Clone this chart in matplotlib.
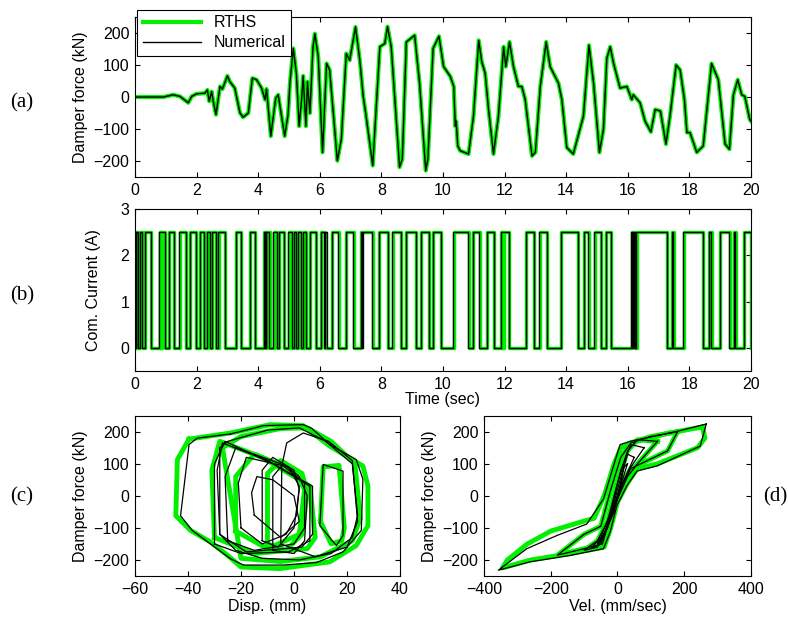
import matplotlib
matplotlib.use('Agg')
import matplotlib.pyplot as plt
from matplotlib.lines import Line2D

plt.rcParams['font.family'] = ['Liberation Sans', 'DejaVu Sans']
plt.rcParams['font.size'] = 11.5

GREEN = '#00f000'

# (a) damper force time history
time_a = [0, 0.92, 1.24, 1.46, 1.73, 1.84, 2.0, 2.27, 2.35, 2.41,
          2.49, 2.54, 2.63, 2.76, 2.84, 3.0, 3.08, 3.24, 3.41, 3.51,
          3.68, 3.81, 3.95, 4.11, 4.22, 4.27, 4.41, 4.57, 4.65, 4.86,
          4.97, 5.03, 5.14, 5.24, 5.33, 5.41, 5.46, 5.55, 5.6, 5.68,
          5.78, 5.84, 5.95, 6.09, 6.22, 6.32, 6.57, 6.7, 6.86, 6.97,
          7.16, 7.3, 7.41, 7.49, 7.72, 7.95, 8.11, 8.2, 8.32, 8.59,
          8.68, 8.81, 9.08, 9.24, 9.44, 9.51, 9.68, 9.87, 10.02, 10.24,
          10.35, 10.4, 10.43, 10.48, 10.56, 10.83, 10.99, 11.16, 11.26, 11.37,
          11.48, 11.64, 11.8, 11.97, 12.04, 12.16, 12.29, 12.45, 12.56, 12.67,
          12.89, 13.0, 13.16, 13.35, 13.48, 13.75, 13.86, 14.02, 14.23, 14.56,
          14.74, 14.89, 15.08, 15.21, 15.32, 15.43, 15.54, 15.75, 15.97, 16.13,
          16.18, 16.4, 16.56, 16.75, 16.89, 17.06, 17.24, 17.37, 17.57, 17.7,
          17.84, 17.92, 18.02, 18.24, 18.45, 18.72, 18.94, 19.16, 19.3, 19.43,
          19.57, 19.7, 19.8, 19.96, 20.0]
force_a = [0, 0, 7, 2, -18, 2, 10, 12, 22, -13,
           17, -13, -55, 33, 25, 66, 48, 28, -50, -63,
           -50, 59, 54, 28, -8, 25, -122, -3, 7, -122,
           -55, 43, 152, 74, -91, -8, 66, -91, 48, -50,
           157, 198, 126, -173, 105, 85, -199, -132, 136, 115,
           219, 115, 2, -50, -214, 157, 167, 220, 157, -219,
           -194, 172, 193, 43, -230, -194, 152, 190, 95, 64,
           33, -91, -75, -153, -168, -178, -60, 177, 110, 74,
           -39, -178, -60, 157, 95, 172, 95, 33, 33, -8,
           -184, -173, 33, 172, 95, 43, -8, -158, -178, -60,
           162, 43, -173, -101, 121, 157, 105, 28, 33, -8,
           7, -18, -75, -109, -39, -44, -147, -60, 100, 85,
           -8, -111, -111, -173, -153, 105, 54, -147, -163, 7,
           54, 7, 2, -70, -75]

# (b) command current: on/off switching times (current 2.5 A when on)
current_on_level = 2.5
num_on = [0.00, 0.03, 0.16, 0.32, 0.79, 1.11, 1.44, 1.79, 2.11, 2.33,
          2.49, 2.71, 3.28, 3.73, 4.19, 4.23, 4.27, 4.49, 4.68, 4.98,
          5.16, 5.28, 5.47, 5.68, 6.04, 6.18, 6.39, 6.85, 7.34, 7.40,
          7.92, 8.36, 8.79, 9.29, 9.68, 10.34, 10.98, 11.42, 11.87, 12.69,
          13.13, 13.82, 14.57, 14.91, 15.29, 16.12, 16.17, 16.22, 16.28, 17.42,
          17.80, 18.63, 19.00, 19.44, 19.76]
num_off = [0.02, 0.10, 0.24, 0.51, 0.97, 1.27, 1.66, 1.97, 2.24, 2.44,
           2.63, 2.92, 3.44, 3.90, 4.21, 4.25, 4.36, 4.60, 4.84, 5.09,
           5.23, 5.39, 5.54, 5.87, 6.15, 6.25, 6.60, 7.09, 7.37, 7.71,
           8.20, 8.64, 9.11, 9.55, 9.92, 10.82, 11.18, 11.66, 12.14, 12.95,
           13.37, 14.38, 14.72, 15.12, 15.46, 16.15, 16.20, 16.25, 17.28, 17.48,
           18.43, 18.71, 19.30, 19.49, 20.00]
rths_on = [0.00, 0.05, 0.08, 0.17, 0.33, 0.80, 0.84, 0.88, 1.12, 1.45,
           1.80, 2.12, 2.34, 2.50, 2.72, 3.29, 3.74, 4.20, 4.28, 4.50,
           4.69, 4.99, 5.17, 5.29, 5.48, 5.69, 6.05, 6.40, 6.86, 7.35,
           7.93, 8.37, 8.80, 9.30, 9.69, 10.35, 10.99, 11.43, 11.88, 11.93,
           11.97, 12.70, 13.14, 13.83, 14.58, 14.92, 15.30, 16.13, 16.29, 17.43,
           17.81, 18.64, 19.01, 19.45, 19.77]
rths_off = [0.03, 0.06, 0.11, 0.25, 0.52, 0.82, 0.86, 0.98, 1.28, 1.67,
            1.98, 2.25, 2.45, 2.64, 2.93, 3.45, 3.91, 4.26, 4.37, 4.61,
            4.85, 5.10, 5.24, 5.40, 5.55, 5.88, 6.16, 6.61, 7.10, 7.72,
            8.21, 8.65, 9.12, 9.56, 9.93, 10.83, 11.19, 11.67, 11.91, 11.95,
            12.15, 12.96, 13.38, 14.39, 14.73, 15.13, 15.47, 16.22, 17.29, 17.49,
            18.44, 18.72, 19.31, 19.50, 20.00]

# (c) force vs displacement loops (mm, kN)
c_rths_loops = [
    ([-39.6, -24, -9, 3.5, 13.5, 26, 27.9, 27.9, 23.5, 13.5, -5.3, -20, -25, -31.5, -39, -44.6, -44, -39.6],
     [177, 196, 222, 219, 155, 93, 31, -93, -155, -206, -227, -222, -186, -144, -108, -62, 113, 177]),
    ([-30, -31, -28, -12, 6, 8, 5, -15, -30],
     [-130, 80, 170, 120, 30, -130, -165, -180, -130]),
    ([10, 11, 17, 19, 18, 14, 10],
     [-80, 90, 95, -100, -140, -150, -80]),
    ([-22, -22, -15, 0, 4, 2, -10, -22],
     [-110, 60, 130, 80, 20, -120, -165, -110]),
    ([-27, -20, -5, 5, 14, 23, 25, 22, 10, -5, -20, -27],
     [150, 185, 210, 212, 170, 100, -70, -140, -190, -205, -195, 150]),
    ([-10, -10, -5, 3, 5, 3, -3, -10],
     [-150, 70, 110, 70, 10, -120, -170, -150]),
]
c_num_loops = [
    ([-24, -36.5, -39.6, -42.8, -38.4, -24, -19, -4, 8.5, 18.5, 25.4, 26, 23.5, 13.5, 6.6, 3.5, -11.5, -20, -24],
     [193, 180, 160, -62, -108, -196, -216, -216, -208, -175, -108, 52, 113, 160, 211, 222, 219, 201, 193]),
    ([-28, -25, -10, 2, 12, 22, 24, 22, 14, 2, -12, -22, -28, -28],
     [150, 170, 205, 212, 170, 100, -60, -130, -180, -200, -195, -170, -120, 150]),
    ([-28, -29, -27, -10, 7, 7, 3, -18, -28],
     [-120, 80, 165, 110, 30, -120, -160, -175, -120]),
    ([-30, -30, -26, -8, 6, 6, -2, -20, -30],
     [-150, 100, 170, 100, 30, -140, -175, -180, -150]),
    ([-25, -26, -22, -5, 4, 4, 0, -15, -25],
     [-140, 60, 150, 100, 40, -100, -150, -170, -140]),
    ([-20, -21, -18, -2, 2, 1, -3, -12, -20],
     [-100, 40, 120, 90, 30, -60, -120, -150, -100]),
    ([-15, -16, -14, -8, 0, 2, -5, -15],
     [-60, 10, 60, 50, 0, -80, -130, -60]),
    ([-12, -12, -8, 0, 2, 0, -6, -12],
     [-140, 80, 120, 80, 20, -100, -160, -140]),
    ([-8, -8, -4, 2, 5, 4, 0, -8],
     [-170, 60, 100, 60, 0, -140, -180, -170]),
    ([10, 11, 18.5, 18.5, 16, 9.75, 10],
     [-60, 98, 77, -124, -155, -93, -60]),
    ([-5, -4.6, -2.75, 3.5, 13, 22, 24, 20, 8, -5],
     [-150, 93, 165, 196, 170, 110, -80, -160, -190, -150]),
]

# (d) force vs velocity loops (mm/sec, kN)
d_rths_loops = [
    ([255, 262, 240, 120, 60, 30, 0, -20, -40, -140, -260, -345, -330, -270, -200, -120, -70, -40, -10, 10, 40, 150, 255],
     [215, 180, 150, 100, 85, 40, -20, -100, -160, -180, -200, -225, -200, -150, -110, -85, -70, 0, 100, 150, 165, 195, 215]),
    ([180, 150, 80, 40, 10, -20, -45, -100, -180, -100, -50, -20, 10, 40, 100, 180],
     [200, 140, 105, 85, 30, -60, -150, -165, -185, -120, -95, 20, 120, 165, 185, 200]),
    ([120, 60, 30, 0, -30, -60, -100, -60, -30, 0, 30, 60, 120],
     [170, 100, 60, -10, -100, -160, -170, -140, -80, 40, 140, 175, 170]),
]
d_num_loops = [
    ([266, 248, 118, 58, 28, -2, -22, -42, -142, -262, -357, -272, -182, -92, -42, -12, 8, 38, 178, 266],
     [224, 155, 93, 77, 31, -31, -113, -165, -186, -206, -232, -165, -124, -88, -10, 93, 160, 170, 201, 224]),
    ([180, 150, 80, 40, 10, -20, -45, -100, -180, -100, -50, -20, 10, 40, 100, 180],
     [200, 140, 105, 85, 30, -60, -150, -165, -185, -120, -95, 20, 120, 165, 185, 200]),
    ([120, 60, 30, 0, -30, -60, -100, -60, -30, 0, 30, 60, 120],
     [170, 100, 60, -10, -100, -160, -170, -140, -80, 40, 140, 175, 170]),
    ([80, 40, 10, -20, -50, -80, -50, -20, 10, 40, 80],
     [150, 90, 20, -70, -150, -165, -130, -50, 80, 160, 150]),
    ([50, 20, -10, -40, -60, -30, 0, 30, 50],
     [120, 50, -40, -120, -150, -100, 20, 130, 120]),
    ([30, 0, -30, -40, -10, 20, 30],
     [100, 0, -90, -120, -50, 90, 100]),
]


def square_wave(ons, offs, level):
    xs, ys = [0.0], [0.0]
    for a, b in zip(ons, offs):
        xs += [a, a, b, b]
        ys += [0, level, level, 0]
    return xs, ys


def style(ax):
    ax.tick_params(direction='in', top=True, right=True, length=3.5, labelsize=11.5, pad=4)
    for s in ax.spines.values():
        s.set_linewidth(0.8)


fig = plt.figure(figsize=(7.88, 6.22), dpi=100)
ax_a = fig.add_axes([0.1713, 0.7154, 0.7817, 0.2572])
ax_b = fig.add_axes([0.1713, 0.4035, 0.7817, 0.2605])
ax_c = fig.add_axes([0.1713, 0.0740, 0.3363, 0.2577])
ax_d = fig.add_axes([0.6142, 0.0740, 0.3388, 0.2577])

# (a)
ax_a.plot(time_a, force_a, color=GREEN, lw=3)
ax_a.plot(time_a, force_a, color='black', lw=1)
ax_a.set_xlim(0, 20)
ax_a.set_ylim(-250, 250)
ax_a.set_xticks(range(0, 21, 2))
ax_a.set_yticks([-200, -100, 0, 100, 200])
ax_a.set_ylabel('Damper force (kN)', labelpad=4)
handles = [Line2D([], [], color=GREEN, lw=3), Line2D([], [], color='black', lw=1)]
leg = ax_a.legend(handles, ['RTHS', 'Numerical'], loc='upper left',
                  bbox_to_anchor=(0.004, 1.045), fancybox=False, framealpha=1,
                  edgecolor='black', fontsize=11.5, borderaxespad=0,
                  handlelength=3.6, borderpad=0.35, labelspacing=0.3)
leg.get_frame().set_linewidth(0.8)
style(ax_a)

# (b)
xg, yg = square_wave(rths_on, rths_off, current_on_level)
xn, yn = square_wave(num_on, num_off, current_on_level)
ax_b.plot(xg, yg, color=GREEN, lw=2.5)
ax_b.plot(xn, yn, color='black', lw=1)
ax_b.set_xlim(0, 20)
ax_b.set_ylim(-0.5, 3)
ax_b.set_xticks(range(0, 21, 2))
ax_b.set_yticks([0, 1, 2, 3])
ax_b.set_ylabel('Com. Current (A)', labelpad=14)
ax_b.set_xlabel('Time (sec)', labelpad=0)
style(ax_b)

# (c)
for xs, fs in c_rths_loops:
    ax_c.plot(xs, fs, color=GREEN, lw=3.5, solid_joinstyle='round')
for xs, fs in c_num_loops:
    ax_c.plot(xs, fs, color='black', lw=0.9)
ax_c.set_xlim(-60, 40)
ax_c.set_ylim(-250, 250)
ax_c.set_xticks([-60, -40, -20, 0, 20, 40])
ax_c.set_yticks([-200, -100, 0, 100, 200])
ax_c.set_xlabel('Disp. (mm)', labelpad=2)
ax_c.set_ylabel('Damper force (kN)', labelpad=4)
style(ax_c)

# (d)
for vs, fs in d_rths_loops:
    ax_d.plot(vs, fs, color=GREEN, lw=3.5, solid_joinstyle='round')
for vs, fs in d_num_loops:
    ax_d.plot(vs, fs, color='black', lw=0.9)
ax_d.set_xlim(-400, 400)
ax_d.set_ylim(-250, 250)
ax_d.set_xticks([-400, -200, 0, 200, 400])
ax_d.set_yticks([-200, -100, 0, 100, 200])
ax_d.set_xlabel('Vel. (mm/sec)', labelpad=2)
ax_d.set_ylabel('Damper force (kN)', labelpad=4)
style(ax_d)

serif = ['Liberation Serif', 'DejaVu Serif']
fig.text(0.028, 0.834, '(a)', family=serif, fontsize=15, ha='center', va='center')
fig.text(0.028, 0.524, '(b)', family=serif, fontsize=15, ha='center', va='center')
fig.text(0.028, 0.201, '(c)', family=serif, fontsize=15, ha='center', va='center')
fig.text(0.969, 0.201, '(d)', family=serif, fontsize=15, ha='left', va='center')

fig.savefig('out.png', dpi=100)
